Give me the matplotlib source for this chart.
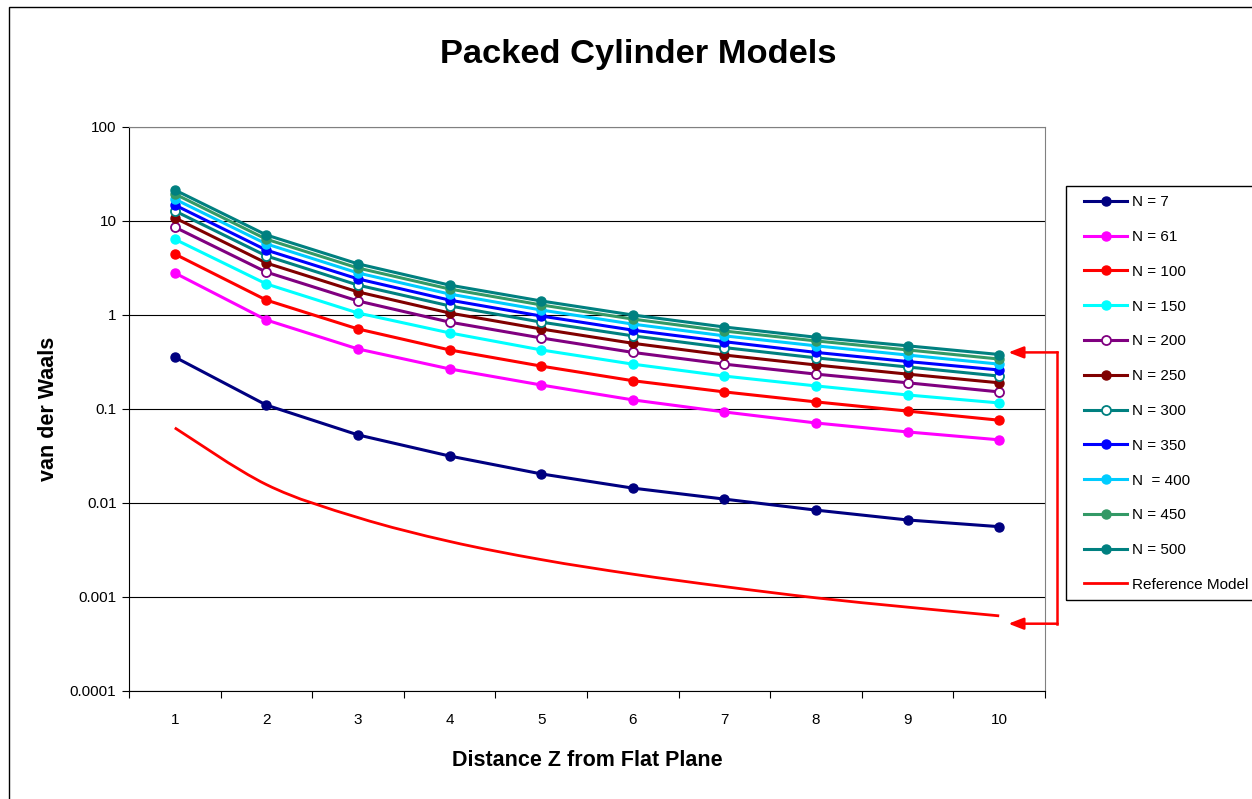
import numpy as np
import matplotlib
matplotlib.use('Agg')
import matplotlib.pyplot as plt
from matplotlib.lines import Line2D
from matplotlib.patches import Rectangle, PathPatch
from matplotlib.path import Path

plt.rcParams['font.family'] = ['Liberation Sans', 'DejaVu Sans']

z = [1, 2, 3, 4, 5, 6, 7, 8, 9, 10]

n7 = [0.357, 0.110, 0.053, 0.0316, 0.0204, 0.0144, 0.0110, 0.0084, 0.0066, 0.0056]
n61 = [2.8, 0.885, 0.435, 0.267, 0.180, 0.125, 0.093, 0.071, 0.057, 0.047]
n100 = [4.45, 1.44, 0.71, 0.425, 0.286, 0.200, 0.152, 0.119, 0.095, 0.076]
n150 = [6.4, 2.14, 1.05, 0.645, 0.425, 0.300, 0.224, 0.176, 0.141, 0.116]
n200 = [8.6, 2.86, 1.41, 0.84, 0.57, 0.40, 0.30, 0.235, 0.19, 0.152]
n250 = [10.8, 3.57, 1.76, 1.05, 0.71, 0.50, 0.375, 0.294, 0.235, 0.19]
n300 = [12.8, 4.25, 2.08, 1.25, 0.84, 0.60, 0.45, 0.35, 0.28, 0.224]
n350 = [14.8, 4.9, 2.42, 1.44, 0.975, 0.69, 0.52, 0.40, 0.32, 0.26]
n400 = [17.1, 5.7, 2.8, 1.67, 1.13, 0.80, 0.60, 0.47, 0.375, 0.30]
n450 = [19.4, 6.4, 3.16, 1.89, 1.28, 0.905, 0.675, 0.53, 0.425, 0.34]
n500 = [21.4, 7.1, 3.5, 2.08, 1.41, 1.0, 0.745, 0.58, 0.47, 0.38]
ref_model = [0.063, 0.0157, 0.0070, 0.0039, 0.0025, 0.00175, 0.00129, 0.00098, 0.00078, 0.00063]

labels = ['N = 7', 'N = 61', 'N = 100', 'N = 150', 'N = 200', 'N = 250',
          'N = 300', 'N = 350', 'N  = 400', 'N = 450', 'N = 500']
colors = ['#000080', '#FF00FF', '#FF0000', '#00FFFF', '#800080', '#800000',
          '#008080', '#0000FF', '#00CCFF', '#339966', '#008080']
hollow = [False, False, False, False, True, False, True, False, False, False, False]
series = [n7, n61, n100, n150, n200, n250, n300, n350, n400, n450, n500]

ytick_vals = [0.0001, 0.001, 0.01, 0.1, 1, 10, 100]
ytick_labels = ['0.0001', '0.001', '0.01', '0.1', '1', '10', '100']

# y positions the two annotation arrows point at
arrow_y = [0.40, 0.00052]

fig = plt.figure(figsize=(12.52, 7.99), dpi=100)
ax = fig.add_axes([129/1252, 1 - 691/799, 916/1252, 564/799])

handles = []
for vals, lab, c, h in zip(series, labels, colors, hollow):
    ln, = ax.plot(z, vals, '-o', color=c, lw=2.2, ms=6.5,
                  mfc='white' if h else c, mec=c, mew=1.3 if h else 1, label=lab)
    handles.append(ln)

# reference model drawn as a smoothed line (Catmull-Rom -> bezier in log space)
P = np.column_stack([np.array(z, float), np.log10(ref_model)])
verts = [P[0]]
codes = [Path.MOVETO]
for i in range(len(P) - 1):
    p0 = P[i - 1] if i > 0 else P[i]
    p3 = P[i + 2] if i + 2 < len(P) else P[i + 1]
    verts += [P[i] + (P[i + 1] - p0) / 6, P[i + 1] - (p3 - P[i]) / 6, P[i + 1]]
    codes += [Path.CURVE4] * 3
verts = np.array(verts)
verts[:, 1] = 10 ** verts[:, 1]
ax.add_patch(PathPatch(Path(verts, codes), fill=False, edgecolor='#FF0000', lw=2.0))
handles.append(Line2D([], [], color='#FF0000', lw=2.0, label='Reference Model'))

ax.set_yscale('log')
ax.set_ylim(0.0001, 100)
ax.set_xlim(0.5, 10.5)
ax.set_yticks(ytick_vals)
ax.set_yticklabels(ytick_labels)
ax.yaxis.set_minor_locator(plt.NullLocator())
ax.tick_params(axis='y', which='major', length=5, direction='out', labelsize=11, pad=4)

ax.set_xticks(np.arange(0.5, 11, 1))
ax.set_xticklabels([])
ax.set_xticks(z, minor=True)
ax.set_xticklabels([str(v) for v in z], minor=True)
ax.tick_params(axis='x', which='major', length=5, direction='out')
ax.tick_params(axis='x', which='minor', length=0, labelsize=11, pad=16)

for v in ytick_vals:
    ax.axhline(v, color='black', lw=0.8, zorder=0.5)

for s in ['top', 'right']:
    ax.spines[s].set_color('#808080')
for s in ['left', 'bottom']:
    ax.spines[s].set_color('black')

ax.set_xlabel('Distance Z from Flat Plane', fontsize=15.5, fontweight='bold', labelpad=16.5)
ax.set_ylabel('van der Waals', fontsize=15.5, fontweight='bold', labelpad=8)
fig.text(638/1252, 1 - 55/799, 'Packed Cylinder Models', fontsize=24.8,
         fontweight='bold', ha='center', va='center')

# arrows pointing at the ends of the top and reference curves
x_right, x_tip = 1.013, 0.960
ax.add_line(Line2D([x_right, x_right], arrow_y, color='#FF0000', lw=1.8,
                   transform=ax.get_yaxis_transform(), clip_on=False))
for yy in arrow_y:
    ax.annotate('', xy=(x_tip, yy), xytext=(x_right + 0.0008, yy),
                xycoords=('axes fraction', 'data'), textcoords=('axes fraction', 'data'),
                arrowprops=dict(arrowstyle='-|>,head_length=0.9,head_width=0.35',
                                color='#FF0000', lw=1.8, shrinkA=0, shrinkB=0),
                annotation_clip=False)

# legend
fig.patches.append(Rectangle((1066/1252, 1 - 600/799), 0.2, 414/799,
                             transform=fig.transFigure, fill=False,
                             edgecolor='black', lw=1))
fig.legend(handles=handles, loc='upper left', bbox_to_anchor=(1069/1252, 1 - 180/799),
           frameon=False, fontsize=11, handlelength=2.8, handletextpad=0.3,
           labelspacing=1.36, borderpad=0.5)

# chart area border
fig.patches.append(Rectangle((9/1252, -0.1), 1.2, 1.1 - 7/799,
                             transform=fig.transFigure, fill=False,
                             edgecolor='black', lw=1))

fig.savefig('out.png', dpi=100)
